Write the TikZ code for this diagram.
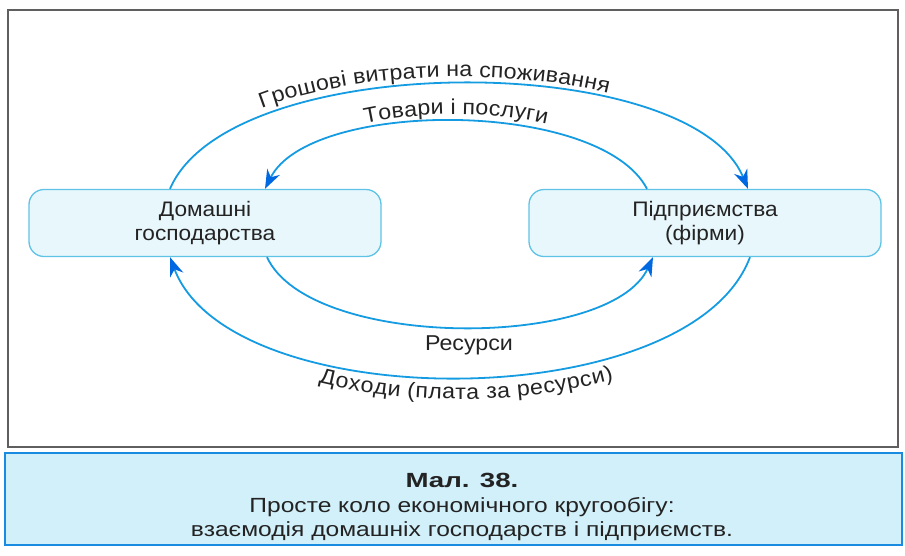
\documentclass[tikz,border=0pt]{standalone}
\usepackage{fontspec}
\setmainfont{Liberation Sans}[FakeStretch=1.08]
\newfontfamily\capfont{Liberation Sans}[FakeStretch=1.2]
\newfontfamily\capboldfont{Liberation Sans Bold}[FakeStretch=1.35]
\usetikzlibrary{arrows.meta}
\usetikzlibrary{decorations.text}
\usetikzlibrary{positioning}

\definecolor{flowline}{RGB}{20,155,225}
\definecolor{flowtip}{RGB}{0,105,225}
\definecolor{boxline}{RGB}{95,195,230}
\definecolor{boxfill}{RGB}{232,247,252}
\definecolor{framegray}{RGB}{95,95,95}
\definecolor{capfill}{RGB}{210,240,250}
\definecolor{capline}{RGB}{25,140,225}
\definecolor{inkgray}{RGB}{35,35,35}

\begin{document}
\begin{tikzpicture}[x=1pt,y=-1pt,
    agent/.style={draw=boxline,fill=boxfill,line width=1.3pt,rounded corners=15pt,
      minimum width=352pt,minimum height=67pt,align=center,text=inkgray,
      font=\fontsize{21}{24}\selectfont},
    flow/.style={draw=flowline,line width=1.8pt,
      -{Stealth[length=19pt,width=14pt,inset=6pt,color=flowtip]}},
    flowlabel/.style={decorate,decoration={text along path,
      text={|\fontsize{21.5}{24}\selectfont\color{inkgray}|#1}}}]

  \useasboundingbox (0,0) rectangle (905,555);

  % outer frame and caption
  \draw [framegray,line width=2pt] (8,10) rectangle (898,447);
  \node [draw=capline,fill=capfill,line width=2pt,minimum width=897pt,minimum height=92pt] (capbox) at (453.5,499) {};
  \node [align=center,text=inkgray,font=\capfont\fontsize{20.5}{24.5}\selectfont] (captext) at (462,507)
    {{\capboldfont Мал. 38.}\\Просте коло економічного кругообігу:\\взаємодія домашніх господарств і підприємств.};

  % the two sides of the market
  \node [agent] (hh) at (205,223) {Домашні\\господарства};
  \node [agent] (firm) at (705,223) {Підприємства\\(фірми)};

  \coordinate (hh_spend)   at ([xshift=-35pt]hh.north);
  \coordinate (hh_goods)   at ([xshift=60pt]hh.north);
  \coordinate (hh_res)     at ([xshift=62pt]hh.south);
  \coordinate (hh_inc)     at ([xshift=-35pt]hh.south);
  \coordinate (firm_spend) at ([xshift=43pt]firm.north);
  \coordinate (firm_goods) at ([xshift=-58pt]firm.north);
  \coordinate (firm_res)   at ([xshift=-52pt]firm.south);
  \coordinate (firm_inc)   at ([xshift=45pt]firm.south);

  % flows
  \path [flow] (hh_spend) .. controls +(60,-140) and +(-58,-140) .. (firm_spend);
  \path [flow] (firm_goods) .. controls +(-47,-90) and +(45,-90) .. (hh_goods);
  \path [flow] (hh_res) .. controls +(43,93) and +(-43,93) .. (firm_res);
  \path [flow] (firm_inc) .. controls +(-60,160) and +(60,160) .. (hh_inc);

  % labels along the flows
  \path [flowlabel={Грошові витрати на споживання},
         decoration={raise=7pt,text align={center,right indent=50pt}}]
    (hh_spend) .. controls +(60,-140) and +(-58,-140) .. (firm_spend);
  \path [flowlabel={Товари і послуги},decoration={raise=7pt,text align=center}]
    (hh_goods) .. controls +(45,-90) and +(-47,-90) .. (firm_goods);
  \path [flowlabel={Доходи (плата за ресурси)},
         decoration={raise=-22pt,text align={center,left indent=12pt}}]
    (hh_inc) .. controls +(60,160) and +(-60,160) .. (firm_inc);
  \node [text=inkgray,font=\fontsize{21.5}{24}\selectfont] (res_label) at (469,345) {Ресурси};

\end{tikzpicture}
\end{document}
